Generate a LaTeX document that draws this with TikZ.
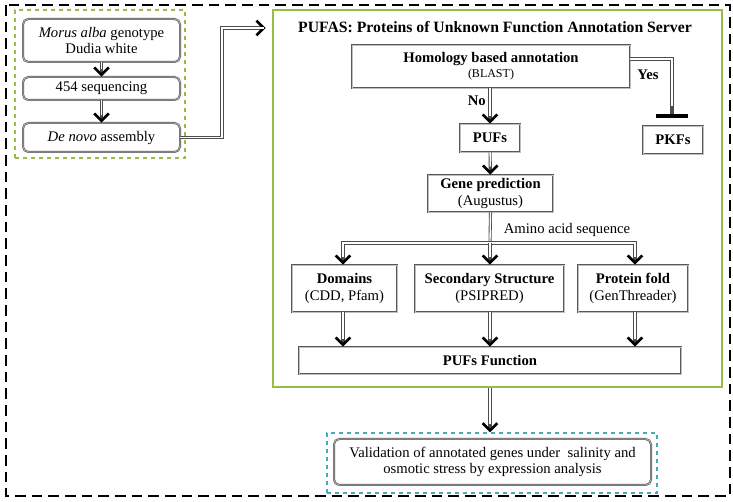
\documentclass[tikz,border=0pt]{standalone}
\usepackage{fontspec}
\setmainfont{Liberation Serif}
\usetikzlibrary{arrows.meta}

\tikzset{
  box/.style={draw=black!65, double=black!25, double distance=0.5pt, line width=0.5pt, fill=white, inner sep=1pt, align=center, font=\fontsize{11}{12.5}\selectfont},
  rbox/.style={box, rounded corners=4pt},
  dline/.style={draw=black!70, line width=2.3pt, postaction={draw=white, line width=1pt}},
  darrow/.style={draw=black!70, line width=2.3pt, -{Straight Barb[length=5.5pt, width=11pt, line width=2pt, black]}, postaction={draw=white, line width=1pt, -, shorten >=6pt}},
  tbar/.style={draw=black!70, line width=2.3pt, -{Bar[width=24pt, line width=3pt, black]}, postaction={draw=white, line width=1pt, -, shorten >=9pt}},
  lbl/.style={font=\fontsize{11}{12.5}\selectfont\bfseries, inner sep=0pt}
}

\begin{document}
\begin{tikzpicture}[x=0.75pt,y=0.75pt,yscale=-1,xscale=1]
\useasboundingbox (0,0) rectangle (733,502);

% containers
\draw [line width=1.8pt, dash pattern={on 8pt off 4.5pt}] (6,5) rectangle (730,496);
\node (seqgroup) [draw={rgb,255:red,150;green,190;blue,70}, line width=0.9pt, dashed, minimum width=127.5pt, minimum height=111pt] at (100,84) {};
\node (pufas) [draw={rgb,255:red,150;green,190;blue,70}, line width=1pt, minimum width=336.75pt, minimum height=282.75pt] at (497.5,198.5) {};
\node (valgroup) [draw={rgb,255:red,70;green,170;blue,190}, line width=0.9pt, dashed, minimum width=247.5pt, minimum height=45pt] at (492,463) {};

% Text Node
\node (title) [font=\fontsize{11.8}{13}\selectfont\bfseries] at (495,27) {PUFAS: Proteins of Unknown Function Annotation Server};

% left boxes
\node (morus) [rbox, minimum width=117.75pt, minimum height=32.25pt] at (101.5,40.5) {\textit{Morus alba} genotype\\Dudia white};
\node (seq) [rbox, minimum width=117.75pt, minimum height=17.25pt] at (101.5,88.5) {454 sequencing};
\node (denovo) [rbox, minimum width=117.75pt, minimum height=21.75pt] at (101.5,137.5) {\textit{De novo} assembly};

% server boxes
\node (homology) [box, minimum width=208.5pt, minimum height=32.25pt] at (491,66.5) {\textbf{Homology based annotation}\\[-1pt]{\fontsize{9}{10}\selectfont (BLAST)}};
\node (pkfs) [box, font=\fontsize{11}{12.5}\selectfont\bfseries, minimum width=45pt, minimum height=21pt] at (673,140) {PKFs};
\node (pufs) [box, font=\fontsize{11}{12.5}\selectfont\bfseries, minimum width=45pt, minimum height=21pt] at (490,138) {PUFs};
\node (gene) [box, minimum width=93.75pt, minimum height=27.75pt] at (490.5,193.5) {\textbf{Gene prediction}\\(Augustus)};
\node (domains) [box, minimum width=78.75pt, minimum height=35.25pt] at (344.5,288.5) {\textbf{Domains}\\(CDD, Pfam)};
\node (secondary) [box, minimum width=111.75pt, minimum height=35.25pt] at (489.5,288.5) {\textbf{Secondary Structure}\\(PSIPRED)};
\node (fold) [box, minimum width=82.5pt, minimum height=35.25pt] at (633,288.5) {\textbf{Protein fold}\\(GenThreader)};
\node (function) [box, font=\fontsize{11}{12.5}\selectfont\bfseries, minimum width=286.5pt, minimum height=20.25pt] at (490,360.5) {PUFs Function};
\node (valid) [rbox, minimum width=237.75pt, minimum height=34.5pt] at (492.5,462) {Validation of annotated genes under\ \ salinity and\\osmotic stress by expression analysis};

% coordinates for bends
\coordinate (bend) at (222,28);
\coordinate (yesbend) at (672,59);
\coordinate (split) at (490,243);
\coordinate (leftx) at (343,0);
\coordinate (rightx) at (635,0);

% connectors
\draw [darrow] (morus) -- (seq);
\draw [darrow] (seq) -- (denovo);
\draw [darrow, shorten >=5pt] (denovo.east) -| (bend) -- (pufas.west |- bend);
\draw [darrow] (homology.south -| pufs) -- (pufs) node [pos=0.35, left=2pt, lbl] {No};
\draw [tbar] (homology.east |- yesbend) -| ([yshift=-6pt]pkfs.north -| yesbend);
\node [lbl] at (648,75) {Yes};
\draw [darrow] (pufs) -- (gene);
\draw [dline] (gene.south) -- (split);
\draw [darrow] (split) -| (domains.north -| leftx);
\draw [darrow] (split) -| (fold.north -| rightx);
\draw [darrow] (split) -- (secondary.north -| split);
\node [font=\fontsize{11}{12.5}\selectfont] at (567,230) {Amino acid sequence};
\draw [darrow] (domains.south -| leftx) -- (function.north -| leftx);
\draw [darrow] (secondary.south -| split) -- (function.north -| split);
\draw [darrow] (fold.south -| rightx) -- (function.north -| rightx);
\draw [darrow] (pufas.south -| split) -- (valgroup.north -| split);

\end{tikzpicture}
\end{document}
